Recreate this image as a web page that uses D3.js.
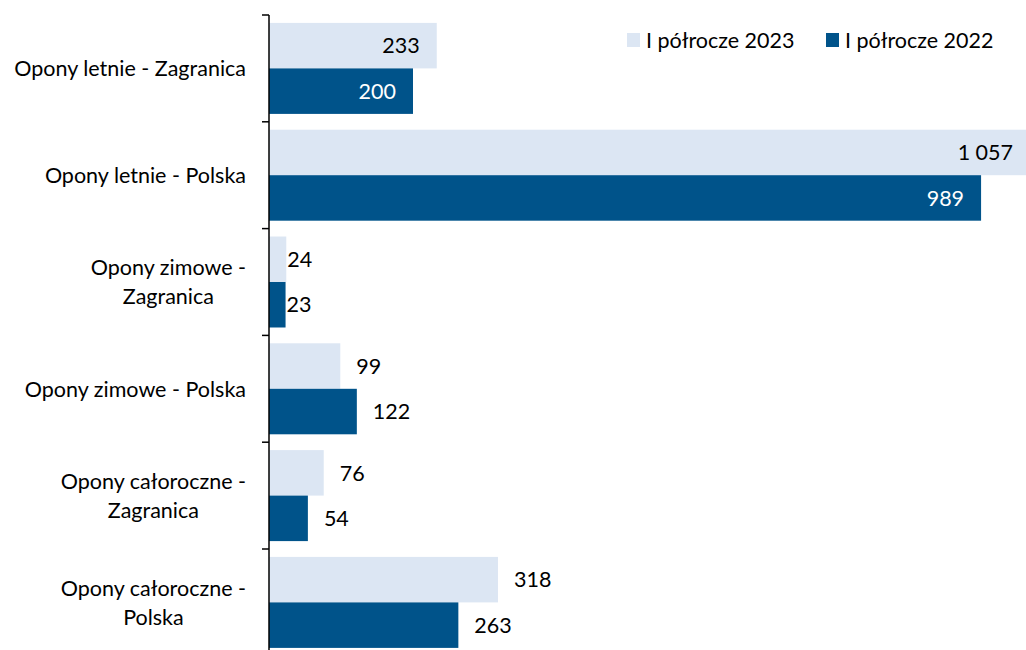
<!DOCTYPE html>
<html lang="pl">
<head>
  <meta charset="UTF-8">
  <title>Opony - I półrocze</title>
  <script src="https://d3js.org/d3.v7.min.js"></script>
  <style>
    body {
      margin: 0;
      padding: 0;
      background: #fff;
      font-family: Lato, sans-serif;
    }
  </style>
</head>
<body>
  <svg id="chart" width="1026" height="650"></svg>

  <script>
    // data
    const categories = [
      "Opony letnie - Zagranica",
      "Opony letnie - Polska",
      "Opony zimowe -\nZagranica",
      "Opony zimowe - Polska",
      "Opony całoroczne -\nZagranica",
      "Opony całoroczne -\nPolska"
    ];
    const seriesNames = ["I półrocze 2023", "I półrocze 2022"];
    const values2023 = [233, 1057, 24, 99, 76, 318];
    const values2022 = [200, 989, 23, 122, 54, 263];
    // label placement per category (Excel put the first two inside)
    const labelInside = [true, true, false, false, false, false];

    const colors = ["#dce6f3", "#00538a"];
    const fontSize = 21.5;

    const svg = d3.select("#chart");
    const axisX = 269;

    const y = d3.scaleBand()
      .domain(d3.range(categories.length))
      .range([15, 15 + 6 * 106.8])
      .paddingInner(0.148)
      .paddingOuter(0.074);

    const ySub = d3.scaleBand()
      .domain([0, 1])
      .range([0, y.bandwidth()]);

    const x = d3.scaleLinear().domain([0, 1100]).range([axisX, axisX + 1100 * 0.72]);

    const fmt = d3.formatLocale({ decimal: ",", thousands: " ", grouping: [3], currency: ["", " zł"] }).format(",d");

    const rows = categories.map((c, i) => ({ i, vals: [values2023[i], values2022[i]] }));

    const g = svg.append("g");

    // bars
    rows.forEach(r => {
      r.vals.forEach((v, s) => {
        g.append("rect")
          .attr("x", x(0))
          .attr("y", y(r.i) + ySub(s))
          .attr("width", x(v) - x(0))
          .attr("height", ySub.bandwidth())
          .attr("fill", colors[s]);

        const inside = labelInside[r.i];
        const gap = v < 50 ? 1 : 16;
        g.append("text")
          .attr("x", inside ? x(v) - 17 : x(v) + gap)
          .attr("y", y(r.i) + ySub(s) + ySub.bandwidth() / 2)
          .attr("dy", "0.36em")
          .attr("text-anchor", inside ? "end" : "start")
          .attr("font-size", fontSize)
          .attr("fill", inside && s === 1 ? "#fff" : "#000")
          .text(fmt(v));
      });
    });

    // category axis: line + ticks between categories
    const step = y.step();
    const boundaries = d3.range(categories.length + 1).map(i => 15 + i * step);
    svg.append("line")
      .attr("x1", axisX).attr("x2", axisX)
      .attr("y1", 15).attr("y2", 650)
      .attr("stroke", "#000").attr("stroke-width", 1.5);
    svg.selectAll(".tick")
      .data(boundaries)
      .join("line")
      .attr("class", "tick")
      .attr("x1", axisX - 7).attr("x2", axisX)
      .attr("y1", d => d).attr("y2", d => d)
      .attr("stroke", "#000").attr("stroke-width", 1.5);

    // category labels, right aligned block with centred lines
    const lineH = 29;
    categories.forEach((c, i) => {
      const lines = c.split("\n");
      const cy = y(i) + y.bandwidth() / 2;
      const t = svg.append("g");
      const texts = lines.map((ln, k) => t.append("text")
        .attr("y", cy + (k - (lines.length - 1) / 2) * lineH)
        .attr("dy", "0.36em")
        .attr("font-size", fontSize)
        .attr("fill", "#000")
        .attr("text-anchor", "middle")
        .text(ln));
      const maxW = d3.max(texts, tx => tx.node().getComputedTextLength());
      texts.forEach(tx => tx.attr("x", 246 - maxW / 2));
    });

    // legend
    const legendX = [627, 826];
    seriesNames.forEach((name, s) => {
      svg.append("rect")
        .attr("x", legendX[s]).attr("y", 33)
        .attr("width", 13).attr("height", 14)
        .attr("fill", colors[s]);
      svg.append("text")
        .attr("x", legendX[s] + 19).attr("y", 40)
        .attr("dy", "0.36em")
        .attr("font-size", fontSize)
        .attr("fill", "#000")
        .text(name);
    });
  </script>
</body>
</html>
